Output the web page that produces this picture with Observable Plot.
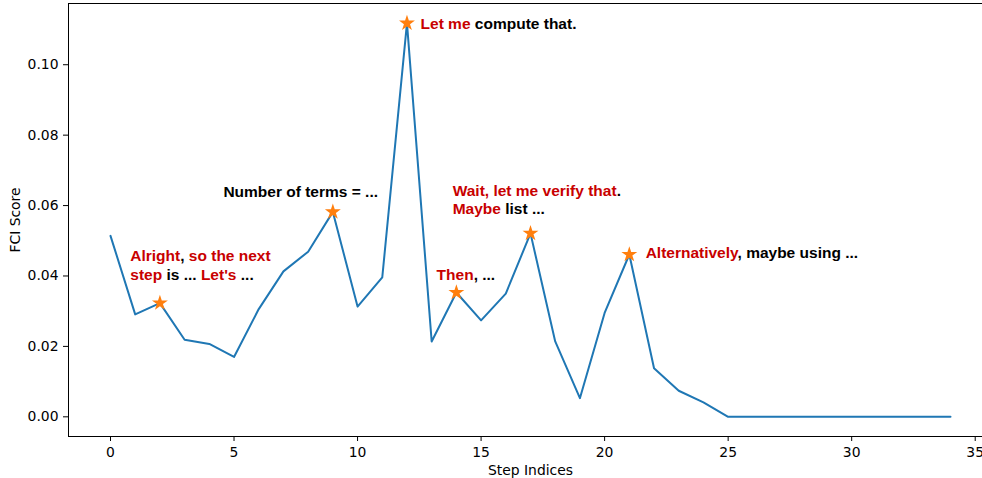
<!DOCTYPE html>
<html>
<head>
<meta charset="utf-8">
<script src="https://cdn.jsdelivr.net/npm/d3@7"></script>
<script src="https://cdn.jsdelivr.net/npm/@observablehq/plot@0.6"></script>
<style>
  html, body { margin: 0; padding: 0; background: #fff; }
  #chart svg { display: block; }
</style>
</head>
<body>
<div id="chart"></div>
<script>
// ---- data ----
const steps = [0,1,2,3,4,5,6,7,8,9,10,11,12,13,14,15,16,17,18,19,20,21,22,23,24,25,26,27,28,29,30,31,32,33,34];
const fciScores = [
  0.0514, 0.0291, 0.0323, 0.0219, 0.0207, 0.0170, 0.0306, 0.0413, 0.0469, 0.0582,
  0.0313, 0.0396, 0.1118, 0.0214, 0.0353, 0.0274, 0.0350, 0.0521, 0.0214, 0.0053,
  0.0295, 0.0461, 0.0138, 0.0074, 0.0041, 0.0000, 0.0000, 0.0000, 0.0000, 0.0000,
  0.0000, 0.0000, 0.0000, 0.0000, 0.0000
];
const starSteps = [2, 9, 12, 14, 17, 21];

const xTicks = [0, 5, 10, 15, 20, 25, 30, 35];
const yTicks = [0.00, 0.02, 0.04, 0.06, 0.08, 0.10];
const xLabel = "Step Indices";
const yLabel = "FCI Score";

// annotation text anchors (data coordinates) and coloured segments (r = red, k = black)
const annotX = [0.8, 4.57, 12.55, 13.85, 13.2, 21.66];
const annotY = [0.0433, 0.0642, 0.1119, 0.0619, 0.0405, 0.0469];
const annotSegments = [
  [[["Alright","r"],[", ","k"],["so the next","r"]], [["step","r"],[" is ... ","k"],["Let's","r"],[" ...","k"]]],
  [[["Number of terms = ...","k"]]],
  [[["Let me","r"],[" compute that.","k"]]],
  [[["Wait, let me verify that","r"],[".","k"]], [["Maybe","r"],[" list ...","k"]]],
  [[["Then","r"],[", ...","k"]]],
  [[["Alternatively","r"],[", maybe using ...","k"]]]
];

// ---- build tables ----
const series = steps.map((s, i) => ({step: s, score: fciScores[i]}));
const stars = starSteps.map(s => ({step: s, score: fciScores[s]}));
const annots = annotX.map((x, i) => ({
  x, y: annotY[i],
  text: annotSegments[i].map(line => line.map(seg => seg[0]).join("")).join("\n")
}));

const RED = "#c80000", BLACK = "#000000";
const xExt = d3.extent(steps), yExt = d3.extent(fciScores);
const xPad = (xExt[1] - xExt[0]) * 0.05, yPad = (yExt[1] - yExt[0]) * 0.05;
const xDomain = [xExt[0] - xPad, xExt[1] + xPad];
const yDomain = [yExt[0] - yPad, yExt[1] + yPad];

const tickFont = "DejaVu Sans";
const chart = Plot.plot({
  width: 982,
  height: 478,
  marginLeft: 68,
  marginRight: -10,
  marginTop: 3,
  marginBottom: 42,
  style: {fontFamily: tickFont, fontSize: "13.9px", background: "#fff", color: "#000"},
  x: {domain: xDomain},
  y: {domain: yDomain},
  marks: [
    Plot.ruleY([yDomain[0], yDomain[1]], {stroke: "#000", strokeWidth: 1}),
    Plot.ruleX([xDomain[0]], {stroke: "#000", strokeWidth: 1}),
    Plot.axisX({ticks: xTicks, tickSize: 5, tickPadding: 6, fontSize: 13.9, fontFamily: tickFont, label: null, stroke: "#000"}),
    Plot.axisY({ticks: yTicks, tickFormat: d3.format(".2f"), tickSize: 5, tickPadding: 5, fontSize: 13.9, fontFamily: tickFont, label: null, stroke: "#000"}),
    Plot.text([xLabel], {frameAnchor: "bottom", dy: 34, text: d => d, fontSize: 13.9, fontFamily: tickFont, lineAnchor: "middle", textAnchor: "middle"}),
    Plot.text([yLabel], {frameAnchor: "left", dx: -53, rotate: -90, text: d => d, fontSize: 13.9, fontFamily: tickFont, lineAnchor: "middle", textAnchor: "middle"}),
    Plot.line(series, {x: "step", y: "score", stroke: "#1f77b4", strokeWidth: 2}),
    Plot.dot(stars, {x: "step", y: "score", symbol: "star", r: 5, fill: "#ff7f0e", stroke: "none"}),
    Plot.text(annots, {x: "x", y: "y", text: "text", textAnchor: "start", lineAnchor: "middle",
      lineHeight: 1.2, fontFamily: "Liberation Sans", fontWeight: "bold", fontSize: 15.5,
      fill: BLACK})
  ]
});

// colour the annotation segments (match each text element by its content)
const svgNS = "http://www.w3.org/2000/svg";
const flat = annotSegments.map(lines => lines.map(line => line.map(seg => seg[0]).join("")).join(""));
chart.querySelectorAll("text").forEach(t => {
  const idx = flat.indexOf(t.textContent);
  if (idx < 0) return;
  const segs = annotSegments[idx];
  let lineEls = Array.from(t.querySelectorAll("tspan"));
  if (lineEls.length === 0) lineEls = [t];
  lineEls.forEach((el, j) => {
    if (!segs[j]) return;
    el.textContent = "";
    for (const [s, c] of segs[j]) {
      const ts = document.createElementNS(svgNS, "tspan");
      ts.setAttribute("fill", c === "r" ? RED : BLACK);
      ts.style.fill = c === "r" ? RED : BLACK;
      ts.textContent = s;
      el.appendChild(ts);
    }
  });
  t.style.whiteSpace = "pre";
});

document.getElementById("chart").appendChild(chart);
</script>
</body>
</html>
